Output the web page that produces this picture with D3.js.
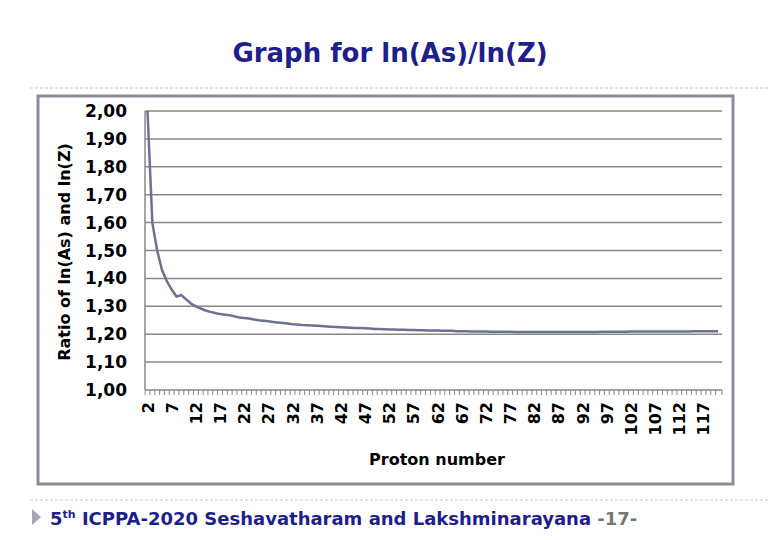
<!DOCTYPE html><html><head><meta charset="utf-8"><script src="https://cdn.jsdelivr.net/npm/d3@7"></script>
<style>body{margin:0;background:#fff}text{font-family:"DejaVu Sans",Arial,sans-serif}</style></head><body><svg id="c" width="780" height="540"></svg>
<script>
const protonNumbers = d3.range(2,121);
const ratioValues = [
2.00,1.60,1.50,1.43,1.39,1.36,1.335,1.34,1.325,1.31,1.30,1.292,1.285,1.28,1.276,1.272,1.27,1.268,1.264,1.26,1.258,1.256,1.253,1.25,1.248,1.246,1.244,1.242,1.24,1.238,1.236,1.235,1.233,1.232,1.231,1.23,1.229,1.228,1.227,1.226,1.225,1.224,1.223,1.222,1.222,1.221,1.22,1.219,1.219,1.218,1.217,1.217,1.216,1.216,1.215,1.215,1.214,1.214,1.213,1.213,1.213,1.212,1.212,1.212,1.211,1.211,1.211,1.21,1.21,1.21,1.21,1.209,1.209,1.209,1.209,1.209,1.208,1.208,1.208,1.208,1.208,1.208,1.208,1.208,1.208,1.208,1.208,1.208,1.208,1.208,1.208,1.208,1.208,1.208,1.209,1.209,1.209,1.209,1.209,1.209,1.21,1.21,1.21,1.21,1.21,1.21,1.21,1.21,1.21,1.21,1.21,1.21,1.21,1.211,1.211,1.211,1.211,1.211,1.211];
const yTicks = [1.0,1.1,1.2,1.3,1.4,1.5,1.6,1.7,1.8,1.9,2.0];
const xLabels = protonNumbers.filter(z => (z-2)%5===0);

const svg = d3.select("#c");
const navy = "#1e1e8c";
svg.append("text").attr("x",390).attr("y",62).attr("text-anchor","middle").attr("font-size",26).attr("font-weight","bold").attr("fill",navy).text("Graph for ln(As)/ln(Z)");
[88,500].forEach(y=>svg.append("line").attr("x1",30).attr("x2",770).attr("y1",y).attr("y2",y).attr("stroke","#c8c8c8").attr("stroke-dasharray","3,2"));
svg.append("rect").attr("x",38).attr("y",96).attr("width",695).attr("height",388).attr("fill","none").attr("stroke","#8a8c9c").attr("stroke-width",3);

const x = d3.scalePoint().domain(protonNumbers).range([147.5,718]);
const y = d3.scaleLinear().domain([1,2]).range([390,111]);
const g = svg.append("g");
yTicks.forEach(t=>g.append("line").attr("x1",145).attr("x2",722).attr("y1",y(t)).attr("y2",y(t)).attr("stroke","#888").attr("stroke-width",1.5));
g.append("line").attr("x1",145).attr("x2",145).attr("y1",111).attr("y2",390).attr("stroke","#888").attr("stroke-width",1.5);
yTicks.forEach(t=>g.append("text").attr("x",127).attr("y",y(t)+6).attr("text-anchor","end").attr("font-size",17).attr("font-weight","bold").text(d3.format(".2f")(t).replace(".",",")));
protonNumbers.forEach(z=>g.append("line").attr("x1",x(z)-2.4).attr("x2",x(z)-2.4).attr("y1",390).attr("y2",395).attr("stroke","#888"));
g.append("line").attr("x1",722).attr("x2",722).attr("y1",390).attr("y2",395).attr("stroke","#888");
xLabels.forEach(z=>g.append("text").attr("transform",`translate(${x(z)+6},402) rotate(-90)`).attr("text-anchor","end").attr("font-size",16).attr("font-weight","bold").text(z));
svg.append("text").attr("x",437).attr("y",465).attr("text-anchor","middle").attr("font-size",16).attr("font-weight","bold").text("Proton number");
svg.append("text").attr("transform","translate(70,252) rotate(-90)").attr("text-anchor","middle").attr("font-size",16).attr("font-weight","bold").text("Ratio of  ln(As) and ln(Z)");

g.append("path").datum(ratioValues).attr("fill","none").attr("stroke","#6c7290").attr("stroke-width",2.5)
 .attr("d",d3.line().x((d,i)=>x(protonNumbers[i])).y(d=>y(d)));

svg.append("path").attr("d","M32,509 L41,517 L32,525 Z").attr("fill","#a0a8b8");
const ft = svg.append("text").attr("x",50).attr("y",525).attr("font-size",18).attr("font-weight","bold").attr("fill",navy);
ft.append("tspan").text("5");
ft.append("tspan").attr("font-size",11).attr("dy",-7).text("th");
ft.append("tspan").attr("dy",7).text(" ICPPA-2020 Seshavatharam and Lakshminarayana ");
ft.append("tspan").attr("fill","#777").text("-17-");
</script></body></html>
